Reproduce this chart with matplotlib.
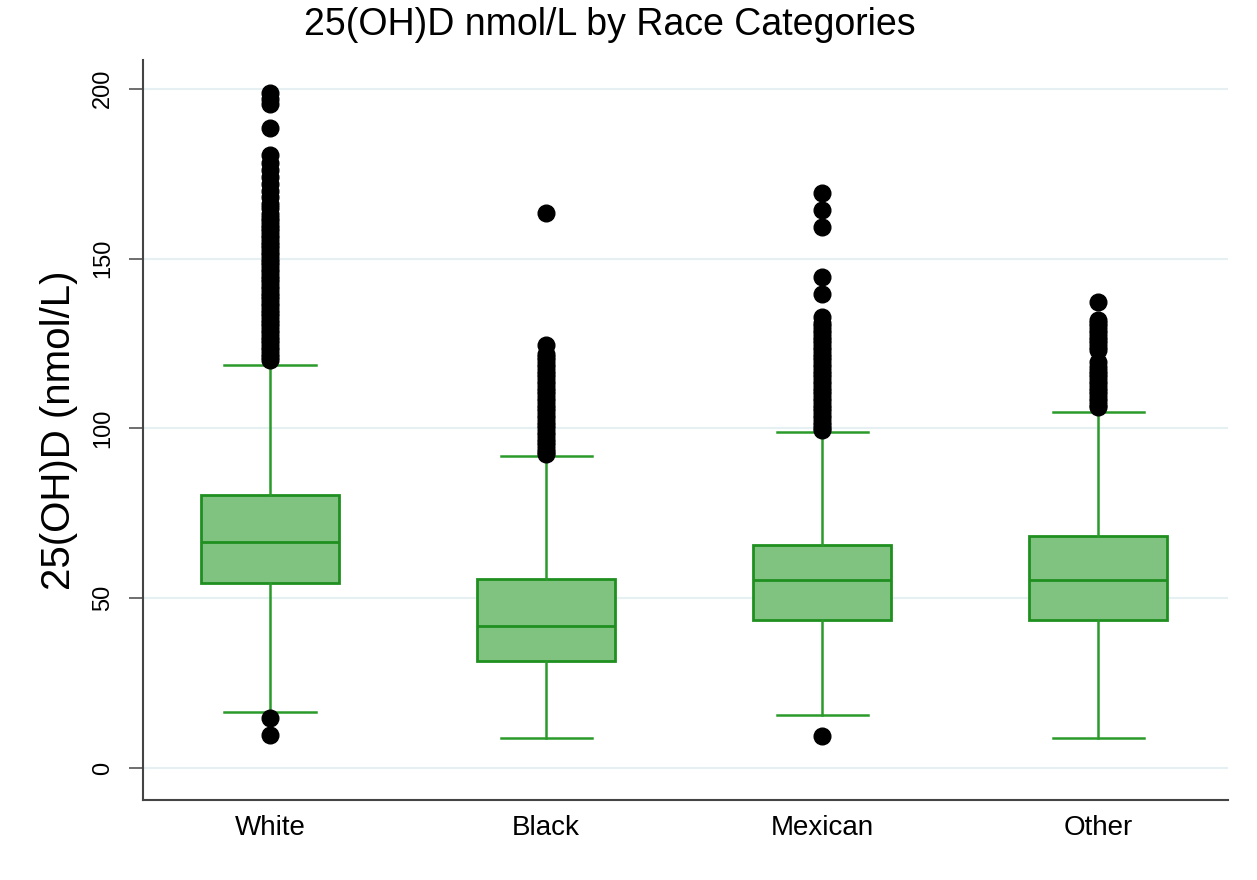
import matplotlib
matplotlib.use("Agg")
import matplotlib.pyplot as plt

plt.rcParams['font.family'] = ['Liberation Sans', 'DejaVu Sans']

# ---- data ----
races = ["White", "Black", "Mexican", "Other"]
q1 = [54.5, 31.5, 43.6, 43.6]
med = [66.6, 41.8, 55.4, 55.4]
q3 = [80.4, 55.7, 65.7, 68.3]
whislo = [16.5, 8.8, 15.6, 8.8]
whishi = [118.7, 91.9, 99.0, 104.9]

white_out = [9.7, 14.7,
             120, 121, 122, 123, 124, 125, 126, 127, 128, 129, 130, 131, 132,
             133, 134, 135, 136, 137, 138, 139, 140, 141, 142, 143, 144, 145,
             146, 147, 148, 149, 150, 151, 152, 153, 154, 155, 156, 157, 158,
             159, 160, 161, 162, 163, 165, 166, 168, 170, 172, 174, 176, 178,
             180.5, 188.5, 195.5, 197, 198.6]
black_out = [92.5, 93, 94, 95, 96, 97, 98, 99, 100, 101, 102, 103, 104, 105,
             106, 107, 108, 109, 110, 111, 112, 113, 114, 115, 116, 117, 118,
             119, 120, 121, 122, 124.6, 163.5]
mexican_out = [9.4,
               99.5, 100, 101, 102, 103, 104, 105, 106, 107, 108, 109, 110, 111,
               112, 113, 114, 115, 116, 117, 118, 119, 120, 121, 122, 123, 124,
               125, 126, 127, 128, 129, 130, 131, 132.8,
               139.6, 144.6, 159.4, 164.4, 169.4]
other_out = [106.3, 107, 108, 109, 110, 111, 112, 113, 114, 115, 116, 117,
             118, 119.5, 123, 124, 125, 126, 127, 128, 129, 130, 131, 132,
             137.3]
outliers = [white_out, black_out, mexican_out, other_out]

yticks = [0, 50, 100, 150, 200]

# ---- figure ----
fig = plt.figure(figsize=(12.57, 8.8), dpi=100)
ax = fig.add_axes([0.1138, 0.0909, 0.8632, 0.8411])

green_edge = "#1f8f1f"
green_fill = "#80c280"

stats = []
for i in range(len(races)):
    stats.append(dict(label=races[i], q1=q1[i], med=med[i], q3=q3[i],
                      whislo=whislo[i], whishi=whishi[i], fliers=outliers[i]))

positions = [1, 2, 3, 4]
ax.bxp(stats, positions=positions, widths=0.5, patch_artist=True,
       showfliers=True,
       boxprops=dict(facecolor=green_fill, edgecolor=green_edge, linewidth=2),
       medianprops=dict(color=green_edge, linewidth=2),
       whiskerprops=dict(color="#2a9a2a", linewidth=1.8),
       capprops=dict(color="#2a9a2a", linewidth=1.8),
       capwidths=0.33,
       flierprops=dict(marker="o", markerfacecolor="black",
                       markeredgecolor="black", markersize=12, linestyle="none"),
       zorder=3)

ax.set_xlim(0.54, 4.47)
ax.set_ylim(-9.4, 208.5)
ax.set_yticks(yticks)
ax.set_yticklabels([str(t) for t in yticks], rotation=90, va="center",
                   fontsize=17)
ax.set_xticks(positions)
ax.set_xticklabels(races, fontsize=20)
ax.tick_params(axis="x", length=0, pad=11)
ax.tick_params(axis="y", length=10, width=1.2, color="#555555", pad=11)

ax.yaxis.grid(True, color="#e6eff1", linewidth=1.5)
ax.set_axisbelow(True)

for s in ["top", "right"]:
    ax.spines[s].set_visible(False)
for s in ["left", "bottom"]:
    ax.spines[s].set_color("#444444")
    ax.spines[s].set_linewidth(1.5)

# y label sits closer to the tick labels than default
ax.set_ylabel("25(OH)D (nmol/L)", fontsize=29)
ax.yaxis.set_label_coords(-0.06, 0.5)

fig.text(610 / 1257, 1 - 25 / 880, "25(OH)D nmol/L by Race Categories",
         ha="center", va="center", fontsize=27)

fig.savefig("out.png", dpi=100)
